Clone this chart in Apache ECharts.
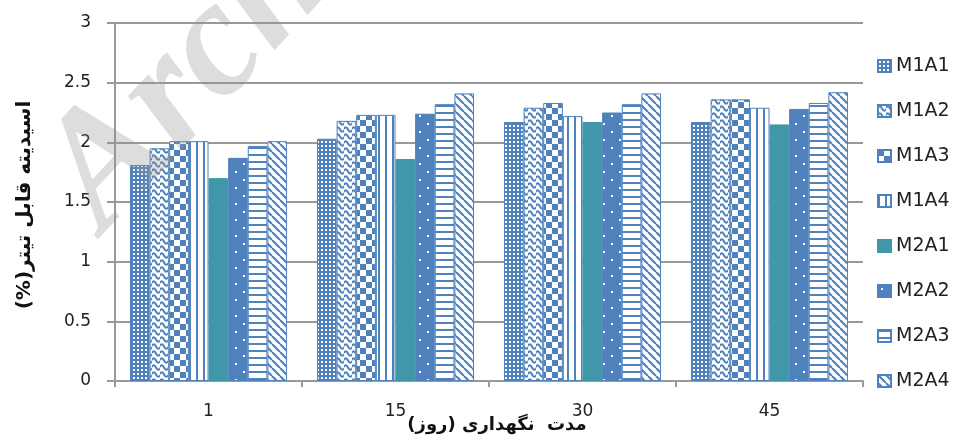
<!DOCTYPE html>
<html>
<head>
<meta charset="utf-8">
<script src="https://cdn.jsdelivr.net/npm/echarts@6/dist/echarts.min.js"></script>
<style>
  html, body { margin: 0; padding: 0; background: #fff; }
  #chart { width: 960px; height: 435px; }
</style>
</head>
<body>
<div id="chart"></div>
<script>
// Storage days on the category axis
const days = ['1', '15', '30', '45'];

// Titratable acidity (%) per treatment
const seriesNames = ['M1A1', 'M1A2', 'M1A3', 'M1A4', 'M2A1', 'M2A2', 'M2A3', 'M2A4'];
const M1A1 = [1.81, 2.03, 2.17, 2.17];
const M1A2 = [1.95, 2.18, 2.29, 2.36];
const M1A3 = [2.01, 2.23, 2.33, 2.36];
const M1A4 = [2.01, 2.23, 2.22, 2.29];
const M2A1 = [1.70, 1.86, 2.17, 2.15];
const M2A2 = [1.87, 2.24, 2.25, 2.28];
const M2A3 = [1.97, 2.32, 2.32, 2.33];
const M2A4 = [2.01, 2.41, 2.41, 2.42];
const seriesValues = [M1A1, M1A2, M1A3, M1A4, M2A1, M2A2, M2A3, M2A4];

const yTitle = 'اسیدیته قابل تیتر(%)\u200F';
const xTitle = 'مدت  نگهداری (روز)\u200F';

const BLUE = '#4f81bd';
const TEAL = '#4197aa';

// Small repeating tiles used as hatch fills
function tile(w, h, draw) {
  const c = document.createElement('canvas');
  c.width = w; c.height = h;
  const g = c.getContext('2d');
  draw(g, w, h);
  return { image: c, repeat: 'repeat' };
}

const fills = [
  // small grid of white cells on blue
  tile(4, 4, (g) => {
    g.fillStyle = BLUE; g.fillRect(0, 0, 4, 4);
    g.fillStyle = '#fff'; g.fillRect(1, 1, 2, 2);
  }),
  // horizontal waves
  tile(8, 7, (g) => {
    g.fillStyle = '#fff'; g.fillRect(0, 0, 8, 7);
    g.strokeStyle = BLUE; g.lineWidth = 2;
    g.beginPath();
    g.moveTo(-1, 3.5);
    g.bezierCurveTo(1.5, 0.5, 2.5, 0.5, 4, 3.5);
    g.bezierCurveTo(5.5, 6.5, 6.5, 6.5, 9, 3.5);
    g.stroke();
  }),
  // large checkerboard
  tile(12, 12, (g) => {
    g.fillStyle = '#fff'; g.fillRect(0, 0, 12, 12);
    g.fillStyle = BLUE;
    g.fillRect(0, 0, 6, 6); g.fillRect(6, 6, 6, 6);
  }),
  // wide vertical lines
  tile(7, 1, (g) => {
    g.fillStyle = '#fff'; g.fillRect(0, 0, 7, 1);
    g.fillStyle = BLUE; g.fillRect(0, 0, 2, 1);
  }),
  // solid
  TEAL,
  // sparse white dots on blue
  tile(16, 16, (g) => {
    g.fillStyle = BLUE; g.fillRect(0, 0, 16, 16);
    g.fillStyle = '#fff';
    g.fillRect(3, 3, 2, 2); g.fillRect(11, 11, 2, 2);
  }),
  // wide horizontal lines
  tile(1, 7, (g) => {
    g.fillStyle = '#fff'; g.fillRect(0, 0, 1, 7);
    g.fillStyle = BLUE; g.fillRect(0, 0, 1, 2);
  }),
  // wide downward diagonal
  tile(8, 8, (g) => {
    g.fillStyle = '#fff'; g.fillRect(0, 0, 8, 8);
    g.strokeStyle = BLUE; g.lineWidth = 2.2;
    g.beginPath();
    for (let k = -8; k <= 8; k += 8) { g.moveTo(k, 0); g.lineTo(k + 8, 8); }
    g.stroke();
  })
];

const chart = echarts.init(document.getElementById('chart'), null, { renderer: 'canvas' });

const series = seriesNames.map((name, i) => ({
  name: name,
  type: 'bar',
  data: seriesValues[i],
  barGap: '0%',
  barCategoryGap: '16%',
  itemStyle: {
    color: fills[i],
    borderColor: i === 4 ? TEAL : BLUE,
    borderWidth: 1
  }
}));

chart.setOption({
  animation: false,
  backgroundColor: '#fff',
  grid: { left: 115, right: 97, top: 23, bottom: 54 },
  legend: {
    orient: 'vertical',
    left: 877,
    top: 56,
    padding: 0,
    itemWidth: 13,
    itemHeight: 12,
    itemGap: 25,
    icon: 'rect',
    data: seriesNames,
    textStyle: { fontFamily: 'DejaVu Sans', fontSize: 19, lineHeight: 20, color: '#222' }
  },
  xAxis: {
    type: 'category',
    data: days,
    axisLine: { lineStyle: { color: '#999', width: 2 } },
    axisTick: { show: true, length: 6, lineStyle: { color: '#999', width: 2 } },
    axisLabel: { margin: 22, color: '#222', fontFamily: 'DejaVu Sans', fontSize: 17 }
  },
  yAxis: {
    type: 'value',
    min: 0,
    max: 3,
    interval: 0.5,
    axisLine: { show: true, lineStyle: { color: '#999', width: 2 } },
    axisTick: { show: true, length: 8, lineStyle: { color: '#999', width: 2 } },
    splitLine: { lineStyle: { color: '#999', width: 2 } },
    axisLabel: { margin: 24, color: '#222', fontFamily: 'DejaVu Sans', fontSize: 17 }
  },
  series: series,
  graphic: [
    {
      type: 'text',
      x: 25,
      y: 205,
      rotation: Math.PI / 2,
      z: 10,
      style: {
        text: yTitle,
        fontFamily: 'DejaVu Sans',
        fontWeight: 'bold',
        fontSize: 20,
        fill: '#111',
        align: 'center',
        verticalAlign: 'middle'
      }
    },
    {
      type: 'text',
      x: 497,
      y: 425,
      z: 10,
      style: {
        text: xTitle,
        fontFamily: 'DejaVu Sans',
        fontWeight: 'bold',
        fontSize: 18,
        fill: '#111',
        align: 'center',
        verticalAlign: 'middle'
      }
    },
    {
      type: 'text',
      x: 12,
      y: 148,
      rotation: 0.82,
      z: 100,
      silent: true,
      style: {
        text: 'Archive of SID',
        fontFamily: 'Liberation Serif',
        fontWeight: 'bold',
        fontStyle: 'italic',
        fontSize: 165,
        fill: 'rgba(150,150,150,0.32)',
        textVerticalAlign: 'alphabetic'
      }
    }
  ]
});
</script>
</body>
</html>
